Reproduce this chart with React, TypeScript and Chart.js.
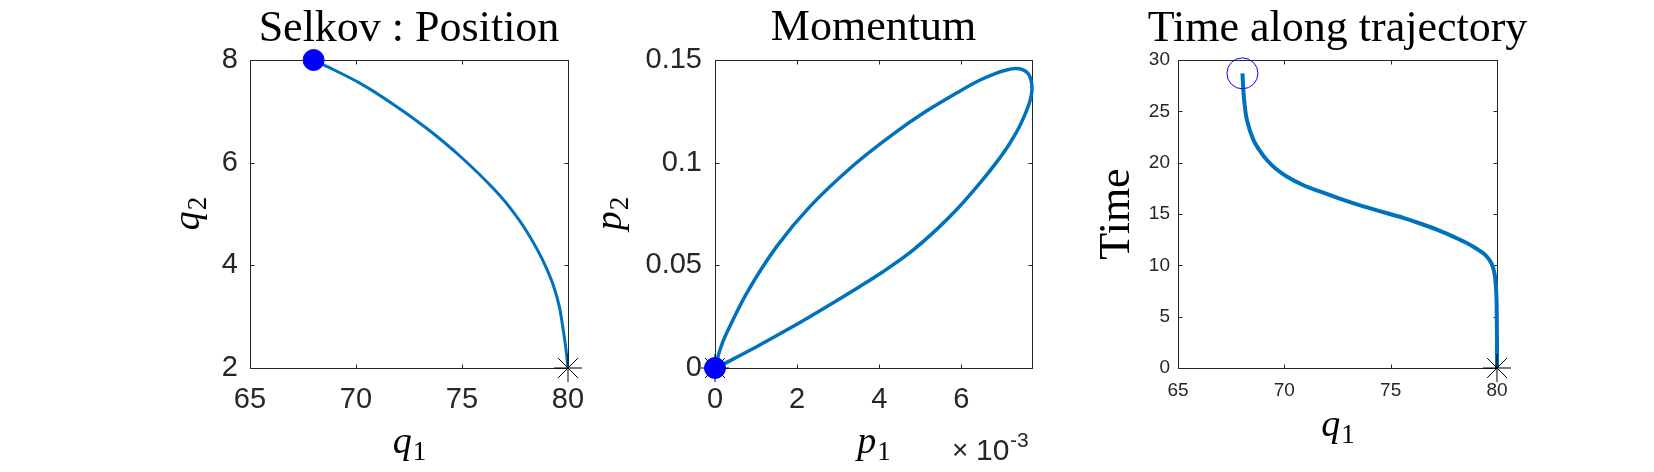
import React, { useEffect, useRef } from 'react';
import { Chart, registerables } from 'chart.js';

Chart.register(...registerables);

const W = 1654;
const H = 472;

// ---------- Panel 1 : Selkov position (q1, q2) ----------
const posQ1 = [68.0, 68.45, 70.18, 71.75, 73.33, 74.9, 76.47, 77.25, 78.04, 78.82, 79.29, 79.6, 79.78, 79.92, 80.0];
const posQ2 = [8.0, 7.91, 7.55, 7.14, 6.67, 6.13, 5.5, 5.13, 4.67, 4.09, 3.63, 3.18, 2.73, 2.31, 2.0];
const posStart = [68.0, 8.0];
const posEnd = [80.0, 2.0];
const posXLim = [65, 80];
const posXStep = 5;
const posYLim = [2, 8];
const posYStep = 2;

// ---------- Panel 2 : Momentum (p1, p2) ----------
const momP1 = [0, 0.00012, 0.00028, 0.00077, 0.0015, 0.00231, 0.00336, 0.00433, 0.00514, 0.00595,
  0.00643, 0.00684, 0.0071, 0.00731, 0.0075, 0.00763, 0.0077, 0.00772,
  0.00767, 0.00757, 0.0074, 0.00715, 0.00685, 0.00643, 0.00595, 0.0054, 0.00473, 0.0041,
  0.00352, 0.0029, 0.00231, 0.0017, 0.00109, 0.00055, 0.0002, 0];
const momP2 = [0, 0.0088, 0.0169, 0.0364, 0.0591, 0.0786, 0.0985, 0.1138, 0.125, 0.1347,
  0.14, 0.1435, 0.1451, 0.1458, 0.1452, 0.1433, 0.14, 0.1355,
  0.13, 0.1245, 0.117, 0.1085, 0.1, 0.0895, 0.0785, 0.0675, 0.0559, 0.047,
  0.0396, 0.032, 0.025, 0.018, 0.0112, 0.0055, 0.0018, 0];
const momStart = [0, 0];
const momEnd = [0, 0];
const momXLim = [0, 0.00772];
const momXStep = 0.002;
const momYLim = [0, 0.15];
const momYStep = 0.05;

// ---------- Panel 3 : Time along trajectory (q1, time) ----------
const timeQ1 = [68.03, 68.06, 68.11, 68.24, 68.55, 68.9, 69.18, 69.6, 70.13, 70.9,
  71.7, 72.5, 73.27, 74.05, 74.84, 75.63, 76.42, 77.2, 77.99, 78.46,
  78.9, 79.4, 79.65, 79.8, 79.9, 79.95, 79.98, 79.99, 80, 80];
const timeT = [28.7, 27.5, 26.1, 24.15, 22.2, 21.0, 20.26, 19.4, 18.63, 17.8,
  17.17, 16.58, 16.04, 15.55, 15.07, 14.6, 14.05, 13.45, 12.75, 12.3,
  11.8, 11.1, 10.5, 9.87, 9.0, 7.92, 6.5, 4.9, 2.5, 0];
const timeStart = [68.03, 28.7];
const timeEnd = [80, 0];
const timeXLim = [65, 80];
const timeXStep = 5;
const timeYLim = [0, 30];
const timeYStep = 5;

const titles = ['Selkov : Position', 'Momentum', 'Time along trajectory'];

const LINE = '#0072BD';
const AXIS = '#262626';
const SANS = '"Liberation Sans", Arial, Helvetica, sans-serif';
const SERIF = '"Liberation Serif", "Times New Roman", serif';

const pts = (xs: number[], ys: number[]) => xs.map((x, i) => ({ x, y: ys[i] }));

function drawMath(ctx: CanvasRenderingContext2D, base: string, sub: string, x: number, y: number, size: number) {
  const subSize = Math.round(size * 0.72);
  ctx.font = `italic ${size}px ${SERIF}`;
  const wb = ctx.measureText(base).width;
  ctx.font = `${subSize}px ${SERIF}`;
  const ws = ctx.measureText(sub).width;
  const x0 = x - (wb + ws) / 2;
  ctx.textAlign = 'left';
  ctx.textBaseline = 'alphabetic';
  ctx.font = `italic ${size}px ${SERIF}`;
  ctx.fillText(base, x0, y);
  ctx.font = `${subSize}px ${SERIF}`;
  ctx.fillText(sub, x0 + wb + 1, y + size * 0.19);
}

function frameTicks(chart: any) {
  const { ctx, chartArea: a, scales } = chart;
  const L = Math.round(a.left) + 0.5;
  const R = Math.round(a.right) + 0.5;
  const T = Math.round(a.top) + 0.5;
  const B = Math.round(a.bottom) + 0.5;
  ctx.save();
  ctx.strokeStyle = AXIS;
  ctx.lineWidth = 1;
  ctx.strokeRect(L, T, R - L, B - T);
  const tl = 4;
  ctx.beginPath();
  scales.x.ticks.forEach((t: any) => {
    const px = Math.round(scales.x.getPixelForValue(t.value)) + 0.5;
    ctx.moveTo(px, B); ctx.lineTo(px, B - tl);
    ctx.moveTo(px, T); ctx.lineTo(px, T + tl);
  });
  scales.y.ticks.forEach((t: any) => {
    const py = Math.round(scales.y.getPixelForValue(t.value)) + 0.5;
    ctx.moveTo(L, py); ctx.lineTo(L + tl, py);
    ctx.moveTo(R, py); ctx.lineTo(R - tl, py);
  });
  ctx.stroke();
  ctx.restore();
}

type Spec = {
  area: { left: number; right: number; top: number; bottom: number };
  xLim: number[]; xStep: number; yLim: number[]; yStep: number;
  tickSize: number; xPad: number; yPad: number;
  xFmt: (v: number) => string; yFmt: (v: number) => string;
  datasets: any[];
  texts: (ctx: CanvasRenderingContext2D, a: any) => void;
};

function makeChart(canvas: HTMLCanvasElement, s: Spec) {
  const yW = 80;
  const xH = 70;
  return new Chart(canvas, {
    type: 'scatter',
    data: { datasets: s.datasets },
    options: {
      animation: false,
      responsive: false,
      maintainAspectRatio: false,
      devicePixelRatio: 1,
      events: [],
      layout: {
        padding: {
          left: s.area.left - yW,
          right: W - s.area.right,
          top: s.area.top,
          bottom: H - s.area.bottom - xH,
        },
      },
      plugins: { legend: { display: false }, tooltip: { enabled: false }, title: { display: false } },
      scales: {
        x: {
          type: 'linear',
          min: s.xLim[0], max: s.xLim[1],
          grid: { display: false, drawTicks: false },
          border: { display: false },
          afterFit: (sc: any) => { sc.height = xH; },
          ticks: {
            stepSize: s.xStep, includeBounds: false, maxRotation: 0, autoSkip: false,
            padding: s.xPad, color: AXIS, font: { family: SANS, size: s.tickSize },
            callback: (v: any) => s.xFmt(Number(v)),
          },
        },
        y: {
          type: 'linear',
          min: s.yLim[0], max: s.yLim[1],
          grid: { display: false, drawTicks: false },
          border: { display: false },
          afterFit: (sc: any) => { sc.width = yW; },
          ticks: {
            stepSize: s.yStep, includeBounds: false, autoSkip: false,
            padding: s.yPad, color: AXIS, font: { family: SANS, size: s.tickSize },
            callback: (v: any) => s.yFmt(Number(v)),
          },
        },
      },
    },
    plugins: [
      {
        id: 'frameTicks',
        beforeDatasetsDraw: (chart: any) => frameTicks(chart),
      },
      {
        id: 'texts',
        afterDraw: (chart: any) => {
          const ctx = chart.ctx;
          ctx.save();
          ctx.fillStyle = '#000';
          s.texts(ctx, chart.chartArea);
          ctx.restore();
        },
      },
    ],
  } as any);
}

const num = (v: number) => String(Math.round(v * 1000) / 1000);

export default function App() {
  const c1 = useRef<HTMLCanvasElement>(null);
  const c2 = useRef<HTMLCanvasElement>(null);
  const c3 = useRef<HTMLCanvasElement>(null);

  useEffect(() => {
    const title = (ctx: CanvasRenderingContext2D, text: string, x: number, y: number) => {
      ctx.font = `44px ${SERIF}`;
      ctx.textAlign = 'center';
      ctx.textBaseline = 'alphabetic';
      ctx.fillText(text, x, y);
    };
    const rotated = (ctx: CanvasRenderingContext2D, x: number, y: number, fn: () => void) => {
      ctx.save();
      ctx.translate(x, y);
      ctx.rotate(-Math.PI / 2);
      fn();
      ctx.restore();
    };

    const ch1 = makeChart(c1.current!, {
      area: { left: 250, right: 568, top: 60, bottom: 368 },
      xLim: posXLim, xStep: posXStep, yLim: posYLim, yStep: posYStep,
      tickSize: 29, xPad: 15, yPad: 12,
      xFmt: num, yFmt: num,
      datasets: [
        { data: [{ x: posStart[0], y: posStart[1] }], pointRadius: 10.5, pointBackgroundColor: '#0000FF', pointBorderColor: '#0000FF', pointBorderWidth: 1, showLine: false, order: 0, clip: false },
        { data: [{ x: posEnd[0], y: posEnd[1] }], pointStyle: 'star', pointRadius: 14, pointBorderColor: '#000', pointBorderWidth: 1, showLine: false, order: 1, clip: false },
        { data: pts(posQ1, posQ2), showLine: true, borderColor: LINE, borderWidth: 3, pointRadius: 0, cubicInterpolationMode: 'monotone', order: 2, clip: false },
      ],
      texts: (ctx, a) => {
        const cx = (a.left + a.right) / 2;
        title(ctx, titles[0], cx, a.top - 19);
        drawMath(ctx, 'q', '1', cx, a.bottom + 85, 38);
        rotated(ctx, a.left - 51, (a.top + a.bottom) / 2, () => drawMath(ctx, 'q', '2', 0, 0, 38));
      },
    });

    const ch2 = makeChart(c2.current!, {
      area: { left: 715, right: 1032, top: 60, bottom: 368 },
      xLim: momXLim, xStep: momXStep, yLim: momYLim, yStep: momYStep,
      tickSize: 29, xPad: 15, yPad: 13,
      xFmt: (v) => String(Math.round(v * 1000)), yFmt: num,
      datasets: [
        { data: [{ x: momStart[0], y: momStart[1] }], pointRadius: 10.5, pointBackgroundColor: '#0000FF', pointBorderColor: '#0000FF', pointBorderWidth: 1, showLine: false, order: 0, clip: false },
        { data: [{ x: momEnd[0], y: momEnd[1] }], pointStyle: 'star', pointRadius: 14, pointBorderColor: '#000', pointBorderWidth: 1, showLine: false, order: 1, clip: false },
        { data: pts(momP1, momP2), showLine: true, borderColor: LINE, borderWidth: 3.5, pointRadius: 0, tension: 0.3, order: 2, clip: false },
      ],
      texts: (ctx, a) => {
        const cx = (a.left + a.right) / 2;
        title(ctx, titles[1], cx, a.top - 20);
        drawMath(ctx, 'p', '1', cx, a.bottom + 85, 38);
        rotated(ctx, a.left - 94, (a.top + a.bottom) / 2, () => drawMath(ctx, 'p', '2', 0, 0, 38));
        // exponent marker
        ctx.textAlign = 'left';
        ctx.textBaseline = 'alphabetic';
        ctx.fillStyle = AXIS;
        const x0 = a.right - 79;
        ctx.font = `28px ${SANS}`;
        ctx.fillText('\u00d7', x0 - 1, a.bottom + 91);
        ctx.font = `30px ${SANS}`;
        ctx.fillText('10', x0 + 23, a.bottom + 92);
        ctx.font = `21px ${SANS}`;
        ctx.fillText('-3', x0 + 57, a.bottom + 79);
      },
    });

    const ch3 = makeChart(c3.current!, {
      area: { left: 1178, right: 1497, top: 60, bottom: 368 },
      xLim: timeXLim, xStep: timeXStep, yLim: timeYLim, yStep: timeYStep,
      tickSize: 19, xPad: 11, yPad: 8,
      xFmt: num, yFmt: num,
      datasets: [
        { data: [{ x: timeStart[0], y: timeStart[1] }], pointRadius: 15.5, pointBackgroundColor: 'rgba(0,0,0,0)', pointBorderColor: '#0000FF', pointBorderWidth: 1, showLine: false, order: 0, clip: false },
        { data: [{ x: timeEnd[0], y: timeEnd[1] }], pointStyle: 'star', pointRadius: 14, pointBorderColor: '#000', pointBorderWidth: 1, showLine: false, order: 1, clip: false },
        { data: pts(timeQ1, timeT), showLine: true, borderColor: LINE, borderWidth: 4, pointRadius: 0, tension: 0.3, order: 2, clip: false },
      ],
      texts: (ctx, a) => {
        const cx = (a.left + a.right) / 2;
        title(ctx, titles[2], cx, a.top - 19);
        drawMath(ctx, 'q', '1', cx, a.bottom + 68, 38);
        rotated(ctx, a.left - 49, (a.top + a.bottom) / 2, () => {
          ctx.font = `44px ${SERIF}`;
          ctx.textAlign = 'center';
          ctx.textBaseline = 'alphabetic';
          ctx.fillText('Time', 0, 0);
        });
      },
    });

    return () => {
      ch1.destroy();
      ch2.destroy();
      ch3.destroy();
    };
  }, []);

  const cv: React.CSSProperties = { position: 'absolute', left: 0, top: 0, width: W, height: H };
  return (
    <div style={{ position: 'absolute', left: 0, top: 0, width: W, height: H, background: '#fff', overflow: 'hidden' }}>
      <canvas ref={c1} width={W} height={H} style={cv} />
      <canvas ref={c2} width={W} height={H} style={cv} />
      <canvas ref={c3} width={W} height={H} style={cv} />
    </div>
  );
}
